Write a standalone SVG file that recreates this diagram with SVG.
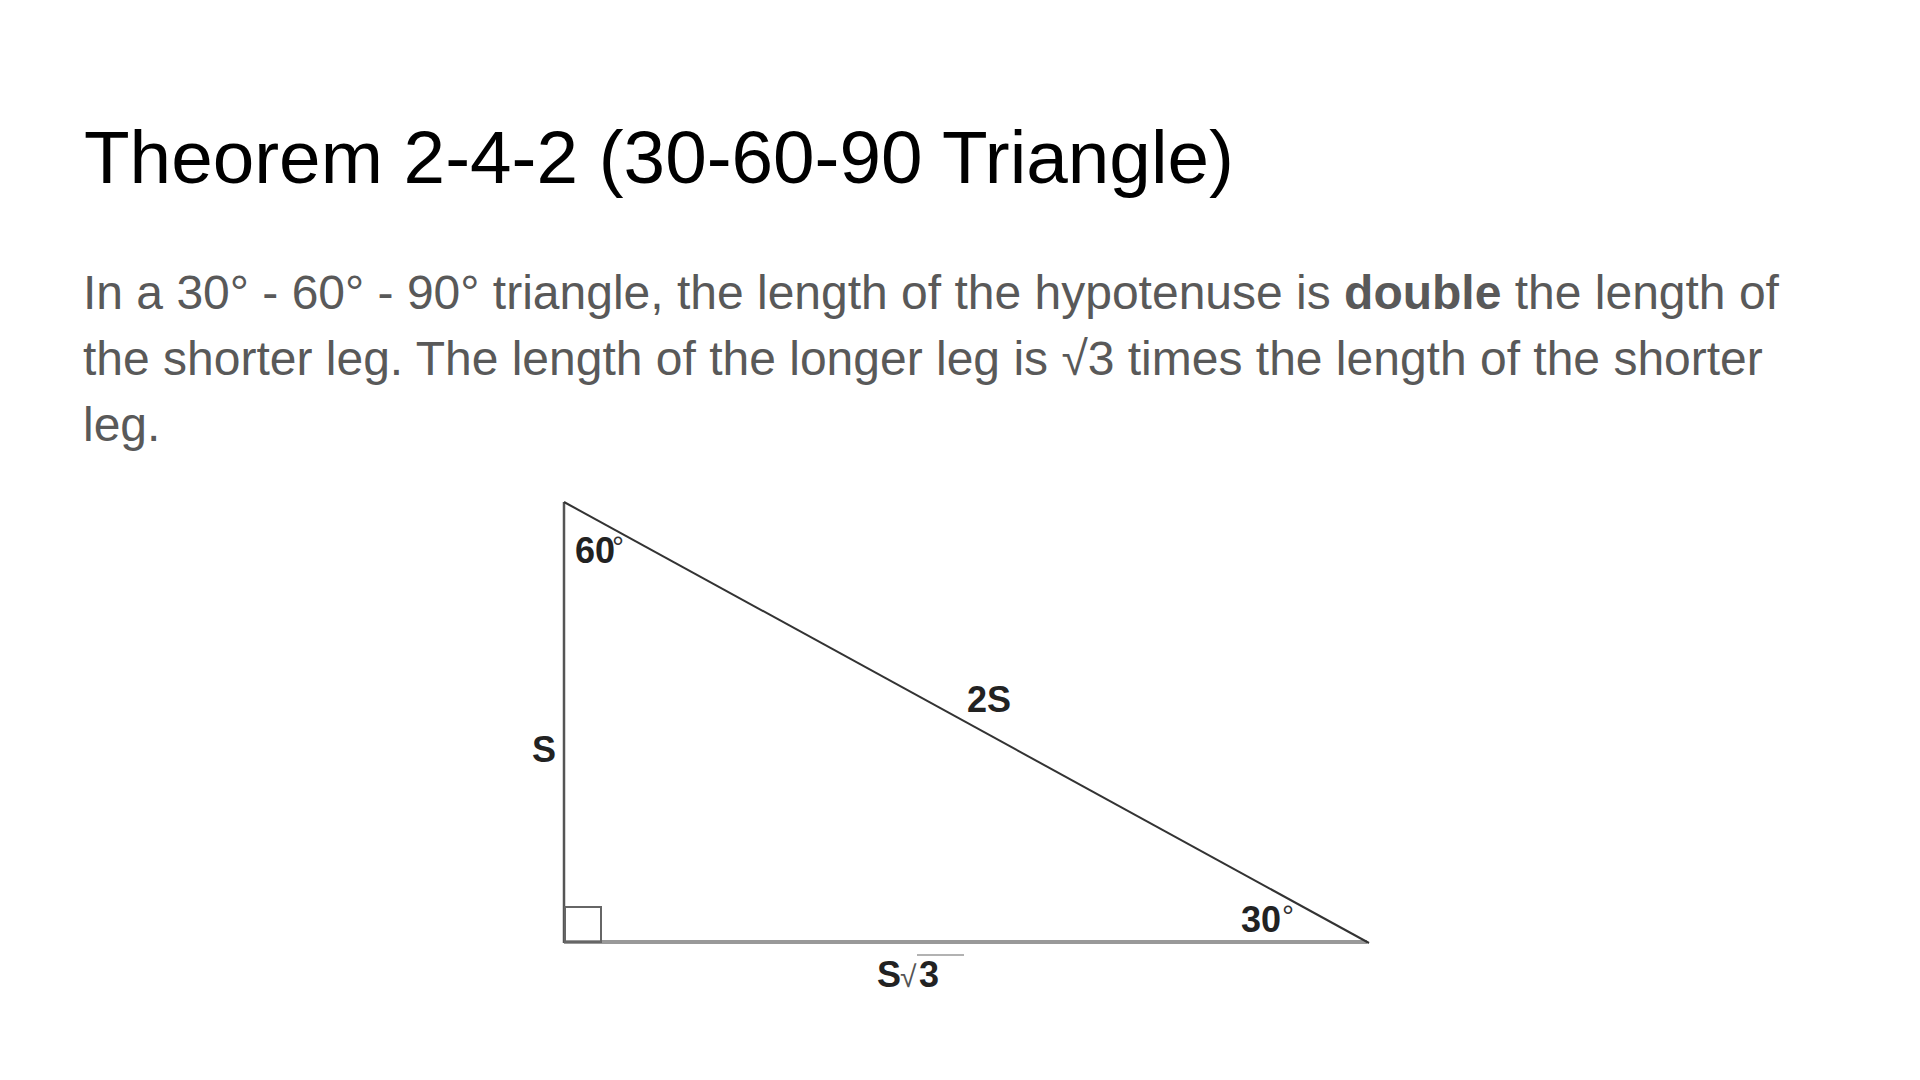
<svg xmlns="http://www.w3.org/2000/svg" width="1920" height="1080" viewBox="0 0 1920 1080">
<style>
.title{font-family:"Liberation Sans",Arial,sans-serif;font-size:74.7px;fill:#000}
.body{font-family:"Liberation Sans",Arial,sans-serif;font-size:48px;fill:#595959}
.lbl{font-family:"Liberation Sans",Arial,sans-serif;font-weight:bold;font-size:36px;fill:#222}
.deg{font-family:"Liberation Sans",Arial,sans-serif;font-size:30px;fill:#333}
</style>
<rect width="1920" height="1080" fill="#fff"/>
<text id="title" class="title" x="84" y="183">Theorem 2-4-2 (30-60-90 Triangle)</text>
<g id="body" class="body">
<text x="83" y="309">In a 30° - 60° - 90° triangle, the length of the hypotenuse is <tspan font-weight="bold">double</tspan> the length of</text>
<text x="83" y="375">the shorter leg. The length of the longer leg is √3 times the length of the shorter</text>
<text x="83" y="441">leg.</text>
</g>
<g id="triangle">
<line x1="1367" y1="942" x2="564" y2="942" stroke="#999" stroke-width="4"/>
<line x1="564" y1="502" x2="564" y2="943" stroke="#555" stroke-width="2.5"/>
<line x1="564" y1="502" x2="1369" y2="943" stroke="#333" stroke-width="2"/>
<rect x="565" y="907" width="36" height="35" fill="none" stroke="#666" stroke-width="2"/>
</g>
<g id="labels">
<text class="lbl" x="575" y="563">60</text>
<text class="deg" x="612" y="557">°</text>
<text class="lbl" x="532" y="762">S</text>
<text class="lbl" x="967" y="712">2S</text>
<text class="lbl" x="1241" y="932">30</text>
<text class="deg" x="1282" y="926">°</text>
<text class="lbl" x="877" y="987">S</text>
<text x="900" y="987" font-family="Liberation Sans, Arial, sans-serif" font-size="30" fill="#555">√</text>
<text class="lbl" x="919" y="987">3</text>
<line x1="917" y1="955" x2="964" y2="955" stroke="#999" stroke-width="1.5"/>
</g>
</svg>
